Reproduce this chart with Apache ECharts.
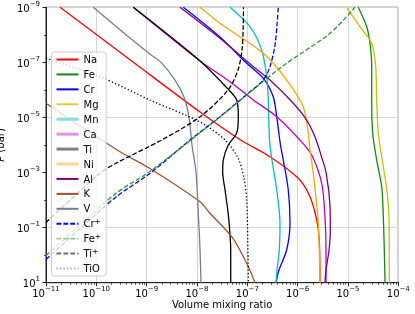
<!DOCTYPE html>
<html><head><meta charset="utf-8">
<script src="https://cdn.jsdelivr.net/npm/echarts@6/dist/echarts.min.js"></script>
<style>html,body{margin:0;padding:0;background:#fff}#c{width:415px;height:314px}</style>
</head><body><div id="c"></div>
<script>
// Volume mixing ratio (x) and pressure in bar (y) for each species
const naP   = [1e-9, 9.68e-8, 6.34e-6, 6.58e-5, 2.66e-4, 1.62e-3, 7.53e-3, 5.28e-2, 0.282, 10];
const naVmr = [1.90e-11, 5.36e-10, 1.15e-8, 7.38e-8, 2.82e-7, 1.03e-6, 1.76e-6, 2.39e-6, 2.69e-6, 2.78e-6];

const feP   = [1e-9, 5.06e-9, 2.03e-8, 1.44e-7, 2.32e-6, 3.76e-5, 3.51e-4, 3.27e-3, 4.01e-2, 0.650, 10];
const feVmr = [1.60e-5, 2.36e-5, 2.74e-5, 2.96e-5, 2.96e-5, 3.10e-5, 3.72e-5, 4.68e-5, 5.04e-5, 5.27e-5, 5.45e-5];

const crP   = [1e-9, 1.20e-8, 1.08e-7, 3.78e-7, 1.76e-6, 9.38e-6, 1e-4, 3.51e-4, 4.31e-3, 6.97e-2, 0.650, 3.46, 10];
const crVmr = [5.35e-9, 2.86e-8, 9.73e-8, 2.08e-7, 3.28e-7, 3.84e-7, 4.56e-7, 5.19e-7, 6.52e-7, 7.05e-7, 6.05e-7, 4.26e-7, 3.72e-7];

const mgP   = [1e-9, 5.06e-9, 2.03e-8, 1.44e-7, 2.32e-6, 3.76e-5, 6.14e-4, 5.68e-3, 4.01e-2, 0.650, 10];
const mgVmr = [9.44e-6, 1.73e-5, 2.96e-5, 3.56e-5, 3.72e-5, 4.00e-5, 5.04e-5, 6.04e-5, 6.53e-5, 6.62e-5, 6.62e-5];

const mnP   = [1e-9, 5.06e-9, 3.55e-8, 3.31e-7, 2.32e-6, 6.58e-5, 3.51e-4, 4.31e-3, 6.97e-2, 0.650, 3.46, 10];
const mnVmr = [4.53e-8, 1.13e-7, 1.93e-7, 2.43e-7, 2.61e-7, 2.76e-7, 3.09e-7, 3.84e-7, 4.46e-7, 4.32e-7, 3.89e-7, 3.72e-7];

const caP   = [1e-9, 8.9e-8, 5.02e-7, 2.32e-6, 9.38e-6, 6.58e-5, 2.31e-4, 2.46e-3, 4.01e-2, 0.650, 10];
const caVmr = [5.43e-10, 1.15e-8, 4.53e-8, 1.32e-7, 3.84e-7, 1.11e-6, 1.90e-6, 3.01e-6, 3.49e-6, 3.66e-6, 3.66e-6];

const tiP   = [1e-9, 8.9e-8, 9.27e-7, 2.32e-6, 9.62e-6, 3.66e-5, 1e-4, 3.51e-4, 9.55e-4, 4.31e-3, 4.01e-2, 0.650, 10];
const tiVmr = [5.43e-10, 1.15e-8, 4.13e-8, 6.15e-8, 6.62e-8, 6.15e-8, 4.19e-8, 3.33e-8, 3.24e-8, 3.61e-8, 4.23e-8, 4.68e-8, 4.68e-8];

const niP   = [1e-9, 3.81e-9, 4.68e-8, 4.37e-7, 4.06e-6, 3.76e-5, 1.52e-4, 1.07e-3, 6.97e-2, 10];
const niVmr = [1.15e-8, 2.86e-8, 2.08e-7, 6.05e-7, 1.29e-6, 1.63e-6, 1.76e-6, 2.05e-6, 2.57e-6, 2.78e-6];

const alP   = [1e-9, 1.34e-8, 1.44e-7, 4.37e-7, 3.06e-6, 1.24e-5, 5.00e-5, 2.31e-4, 1.07e-3, 1.74e-2, 0.122, 0.650, 3.46, 10];
const alVmr = [4.59e-9, 2.86e-8, 1.32e-7, 2.82e-7, 8.20e-7, 1.51e-6, 2.21e-6, 2.91e-6, 3.70e-6, 4.40e-6, 4.46e-6, 4.20e-6, 3.66e-6, 3.49e-6];

const kP    = [3.06e-6, 2.04e-5, 1.75e-4, 7.13e-4, 1.15e-2, 3.02e-2, 0.214, 1.98, 10];
const kVmr  = [1.0e-11, 4.74e-11, 2.95e-10, 1.16e-9, 1.15e-8, 1.81e-8, 4.90e-8, 9.73e-8, 1.42e-7];

const vP    = [1e-9, 9.31e-9, 4.97e-8, 1e-7, 4.37e-7, 1.81e-6, 1e-5, 1e-4, 9.55e-4, 2.94e-2, 0.650, 10];
const vVmr  = [8.71e-11, 3.72e-10, 1.16e-9, 1.93e-9, 3.66e-9, 5.52e-9, 6.93e-9, 7.96e-9, 9.55e-9, 1.06e-8, 1.15e-8, 1.20e-8];

const crpP   = [1.44, 0.108, 7.73e-3, 1.0e-3, 6.58e-5, 9.38e-6, 1.16e-6, 4.37e-7, 1.44e-7, 2.34e-8, 4.40e-9, 1e-9];
const crpVmr = [1e-11, 4.74e-11, 2.46e-10, 1.22e-9, 7.26e-9, 2.86e-8, 1.13e-7, 2.08e-7, 2.82e-7, 3.55e-7, 3.89e-7, 4.13e-7];

const fepP   = [1.03, 8.04e-2, 5.68e-3, 1.0e-3, 1.52e-4, 9.62e-6, 1.44e-7, 8.79e-9, 1e-9];
const fepVmr = [1e-11, 4.74e-11, 2.46e-10, 1.08e-9, 4.20e-9, 2.86e-8, 4.84e-7, 4.40e-6, 1.38e-5];

const tipP   = [6.52e-2, 1.07e-3, 4.61e-4, 6.58e-5, 9.38e-6, 1.01e-6, 1.89e-7, 3.55e-8, 4.40e-9, 1e-9];
const tipVmr = [1e-11, 1.18e-10, 2.46e-10, 1.99e-9, 1.15e-8, 4.13e-8, 6.53e-8, 7.83e-8, 8.32e-8, 8.39e-8];

const tioP   = [7.11e-8, 3.31e-7, 2.32e-6, 1.46e-5, 6.58e-5, 2.96e-4, 1.58e-3, 9.93e-3, 0.282, 10];
const tioVmr = [1e-11, 1.18e-10, 1.16e-9, 1.15e-8, 3.61e-8, 6.53e-8, 8.59e-8, 9.73e-8, 1.02e-7, 1.05e-7];

// Tick positions (exponents of 10)
const xTickExps = [-11, -10, -9, -8, -7, -6, -5, -4];
const yLabelExps = [-9, -7, -5, -3, -1, 1];
const yMinorExps = [-8, -6, -4, -2, 0];

const FONT = 'DejaVu Sans';
const dash = [4.8, 2.1];
const dot = [1.3, 2.2];

// name, vmr, pressure, colour, line type, legend style override
const species = [
  ['Na', naVmr, naP, '#ff0000', 'solid', null],
  ['Fe', feVmr, feP, '#108a10', 'solid', null],
  ['Cr', crVmr, crP, '#0000ff', 'solid', null],
  ['Mg', mgVmr, mgP, '#c4c400', 'solid', {color: '#d2d24a'}],
  ['Mn', mnVmr, mnP, '#00c0c0', 'solid', {color: '#80e0e0', width: 3}],
  ['Ca', caVmr, caP, '#c000c0', 'solid', {color: '#e690e6', width: 3}],
  ['Ti', tiVmr, tiP, '#000000', 'solid', {color: '#808080', width: 3}],
  ['Ni', niVmr, niP, '#ffa500', 'solid', {color: '#ffd690', width: 3}],
  ['Al', alVmr, alP, '#800080', 'solid', null],
  ['K', kVmr, kP, '#a0522d', 'solid', null],
  ['V', vVmr, vP, '#708090', 'solid', null],
  ['Cr+', crpVmr, crpP, '#0000ff', dash, null],
  ['Fe+', fepVmr, fepP, '#2a9a2a', dash, {color: '#8cce8c', width: 1.6}],
  ['Ti+', tipVmr, tipP, '#000000', dash, {color: '#707070', width: 2}],
  ['TiO', tioVmr, tioP, '#000000', dot, {color: '#a8a8a8'}]
];

const series = species.map(s => ({
  name: s[0],
  type: 'line',
  xAxisIndex: 0, yAxisIndex: 0,
  data: s[1].map((v, i) => [v, s[2][i]]),
  showSymbol: false,
  symbol: 'none',
  smooth: 0.3,
  clip: true,
  lineStyle: {color: s[3], width: 1.3, type: s[4]},
  itemStyle: {color: s[3]},
  emphasis: {disabled: true},
  silent: true
}));

const legendData = species.map(s => {
  const d = {name: s[0], itemStyle: {opacity: 0}};
  if (s[5]) d.lineStyle = s[5];
  return d;
});

const pow10 = e => Number('1e' + e);
const xMinorTicks = [];
for (let e = -11; e < -4; e++) for (let k = 2; k <= 9; k++) xMinorTicks.push(k * pow10(e));

const expStr = e => String(e).replace('-', '\u2212');
const richNum = {
  b: {fontSize: 10, fontFamily: FONT, color: '#000', lineHeight: 14, verticalAlign: 'bottom'},
  s: {fontSize: 7, fontFamily: FONT, color: '#000', lineHeight: 9, verticalAlign: 'top'}
};
const AX = '#222';

const chart = echarts.init(document.getElementById('c'), null, {renderer: 'canvas'});
chart.setOption({
  animation: false,
  backgroundColor: '#fff',
  grid: {left: 46, top: 7.3, right: 16.7, bottom: 31.3, outerBoundsMode: 'none', containLabel: false,
    show: true, borderColor: AX, borderWidth: 1, backgroundColor: 'transparent'},
  xAxis: [{
    type: 'log', logBase: 10, min: 1e-11, max: 1e-4, splitNumber: 7,
    name: 'Volume mixing ratio', nameLocation: 'middle', nameGap: 17.5, nameMoveOverlap: false,
    nameTextStyle: {fontSize: 10, fontFamily: FONT, color: '#000'},
    axisLine: {show: true, lineStyle: {color: AX, width: 1}},
    axisTick: {show: true, length: 3.5, lineStyle: {color: AX, width: 1}},
    axisLabel: {
      margin: 3,
      formatter: v => {
        const e = Math.round(Math.log10(v));
        return xTickExps.includes(e) ? '{b|10}{s|' + expStr(e) + '}' : '';
      },
      rich: richNum
    },
    splitLine: {show: true, lineStyle: {color: '#d6d6d6', width: 1}}
  }, {
    type: 'log', logBase: 10, min: 1e-11, max: 1e-4, position: 'bottom', offset: 0,
    axisLine: {show: false},
    axisTick: {show: true, length: 2, customValues: xMinorTicks, lineStyle: {color: AX, width: 0.8}},
    axisLabel: {show: false},
    splitLine: {show: false}
  }],
  yAxis: [{
    type: 'log', logBase: 10, min: 1e-9, max: 10, inverse: true, splitNumber: 10,
    name: '{i|P} (bar)', nameLocation: 'middle', nameGap: 32, nameRotate: 90,
    nameTextStyle: {fontSize: 10, fontFamily: FONT, color: '#000',
      rich: {i: {fontStyle: 'italic', fontSize: 10, fontFamily: FONT, color: '#000'}}},
    axisLine: {show: true, lineStyle: {color: AX, width: 1}},
    axisTick: {show: true, length: 3.5, customValues: yLabelExps.map(pow10), lineStyle: {color: AX, width: 1}},
    axisLabel: {
      margin: 6,
      formatter: v => {
        const e = Math.round(Math.log10(v));
        return yLabelExps.includes(e) ? '{b|10}{s|' + expStr(e) + '}' : '';
      },
      rich: richNum
    },
    splitLine: {show: true, lineStyle: {color: ['#d6d6d6', 'rgba(0,0,0,0)'], width: 1}}
  }, {
    type: 'log', logBase: 10, min: 1e-9, max: 10, inverse: true, position: 'left', offset: 0,
    axisLine: {show: false},
    axisTick: {show: true, length: 2, customValues: yMinorExps.map(pow10), lineStyle: {color: AX, width: 0.8}},
    axisLabel: {show: false},
    splitLine: {show: false}
  }],
  legend: {
    show: true, orient: 'vertical', left: 51.5, top: 52,
    padding: [1.5, 5, 1.5, 3.5],
    itemWidth: 22, itemHeight: 10, itemGap: 2.93,
    backgroundColor: 'rgba(255,255,255,0.8)', borderColor: '#cccccc', borderWidth: 1, borderRadius: 3,
    selectedMode: false,
    itemStyle: {opacity: 0},
    data: legendData,
    formatter: n => n.endsWith('+') ? '{n|' + n.slice(0, -1) + '}{p|+}' : '{n|' + n + '}',
    textStyle: {
      fontSize: 10, fontFamily: FONT, color: '#000', lineHeight: 12,
      rich: {
        n: {fontSize: 10, fontFamily: FONT, color: '#000', lineHeight: 12, verticalAlign: 'bottom'},
        p: {fontSize: 7.5, fontFamily: FONT, color: '#000', lineHeight: 8, verticalAlign: 'top'}
      }
    }
  },
  series: series
});
</script></body></html>
